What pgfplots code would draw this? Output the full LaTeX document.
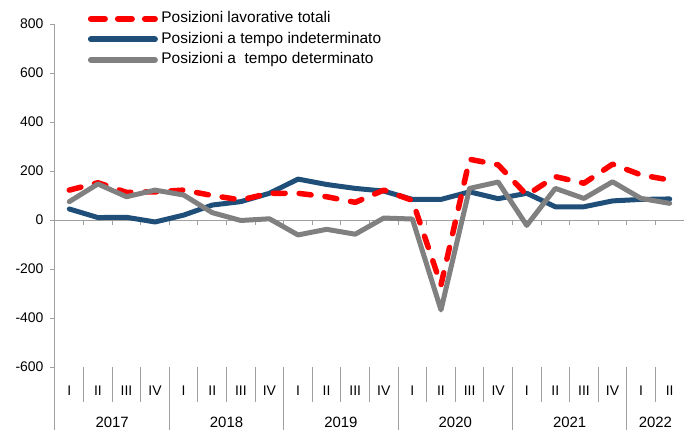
\documentclass[border=0pt]{standalone}
\usepackage{pgfplots}
\pgfplotsset{compat=1.18}
\usepackage{fontspec}
\setmainfont{Liberation Sans}
\definecolor{myred}{HTML}{FF0000}
\definecolor{myblue}{HTML}{1F4E79}
\definecolor{mygray}{HTML}{808080}
\definecolor{axgray}{HTML}{A0A0A0}
\pgfplotstableread{
x tot ind det
0.5 122 45 75
1.5 152 10 147
2.5 113 11 95
3.5 115 -8 122
4.5 122 20 102
5.5 100 61 30
6.5 82 75 -2
7.5 109 109 5
8.5 109 167 -61
9.5 95 145 -38
10.5 72 129 -58
11.5 122 118 8
12.5 80 84 4
13.5 -265 84 -367
14.5 248 115 129
15.5 225 87 155
16.5 102 109 -22
17.5 177 54 129
18.5 150 54 88
19.5 228 78 156
20.5 184 84 88
21.5 163 86 68
}\datatable
\begin{document}
\begin{tikzpicture}
\useasboundingbox (-55bp,-63bp) rectangle (629bp,367bp);
\begin{axis}[
  at={(0,0)}, anchor=south west,
  scale only axis, width=629bp, height=343bp,
  xmin=0, xmax=22, ymin=-600, ymax=800,
  clip=false,
  axis lines*=left,
  x axis line style={draw=none},
  y axis line style={axgray, line width=1bp},
  tick align=outside,
  major tick length=5bp,
  ytick={-600,-400,...,800},
  ytick style={axgray, line width=1bp},
  y tick label style={font=\fontsize{14}{16}\selectfont, xshift=-3bp},
  /pgf/number format/assume math mode=true,
  xtick={0.5,1.5,...,21.5},
  xticklabels={I,II,III,IV,I,II,III,IV,I,II,III,IV,I,II,III,IV,I,II,III,IV,I,II},
  xtick style={draw=none},
  x tick label style={font=\fontsize{14}{16}\selectfont, anchor=center, yshift=-19bp},
  extra x ticks={2,6,10,14,18,21},
  extra x tick labels={2017,2018,2019,2020,2021,2022},
  extra x tick style={xtick style={draw=none}, x tick label style={font=\fontsize{15}{17}\selectfont, yshift=-31bp}},
  legend style={draw=none, fill=none, at={(0.052,1.036)}, anchor=north west,
    font=\fontsize{15.5}{17}\selectfont, row sep=6.5bp, inner sep=0pt,
    nodes={text height=11bp, text depth=3bp, inner ysep=0pt, inner xsep=3.5bp}},
  legend cell align=left,
  legend image code/.code={\draw[#1] (3bp,0bp) -- (67bp,0bp);},
]
\addlegendimage{myred, line width=6bp, line cap=round, dash pattern=on 14bp off 13bp}
\addlegendentry{Posizioni lavorative totali}
\addlegendimage{myblue, line width=6bp, line cap=round}
\addlegendentry{Posizioni a tempo indeterminato}
\addlegendimage{mygray, line width=6bp, line cap=round}
\addlegendentry{Posizioni a\ \ tempo determinato}

\draw[axgray, line width=1bp] (axis cs:0,0) -- (axis cs:22,0);
\pgfplotsinvokeforeach{1,...,22}{\draw[axgray, line width=1bp] (axis cs:#1,0) -- (axis cs:#1,-20.4);}
\pgfplotsinvokeforeach{1,2,3,5,6,7,9,10,11,13,14,15,17,18,19,21}{\draw[axgray, line width=1bp] (axis cs:#1,-600) -- (axis cs:#1,-743);}
\pgfplotsinvokeforeach{0,4,8,12,16,20,22}{\draw[axgray, line width=1bp] (axis cs:#1,-600) -- (axis cs:#1,-860);}

\addplot[forget plot, myblue, line width=5bp, line join=round, line cap=round] table[x=x, y=ind] {\datatable};
\addplot[forget plot, myred, line width=5.5bp, line join=round, line cap=round, dash pattern=on 12bp off 14bp] table[x=x, y=tot] {\datatable};
\addplot[forget plot, mygray, line width=5bp, line join=round, line cap=round] table[x=x, y=det] {\datatable};
\end{axis}
\end{tikzpicture}
\end{document}
